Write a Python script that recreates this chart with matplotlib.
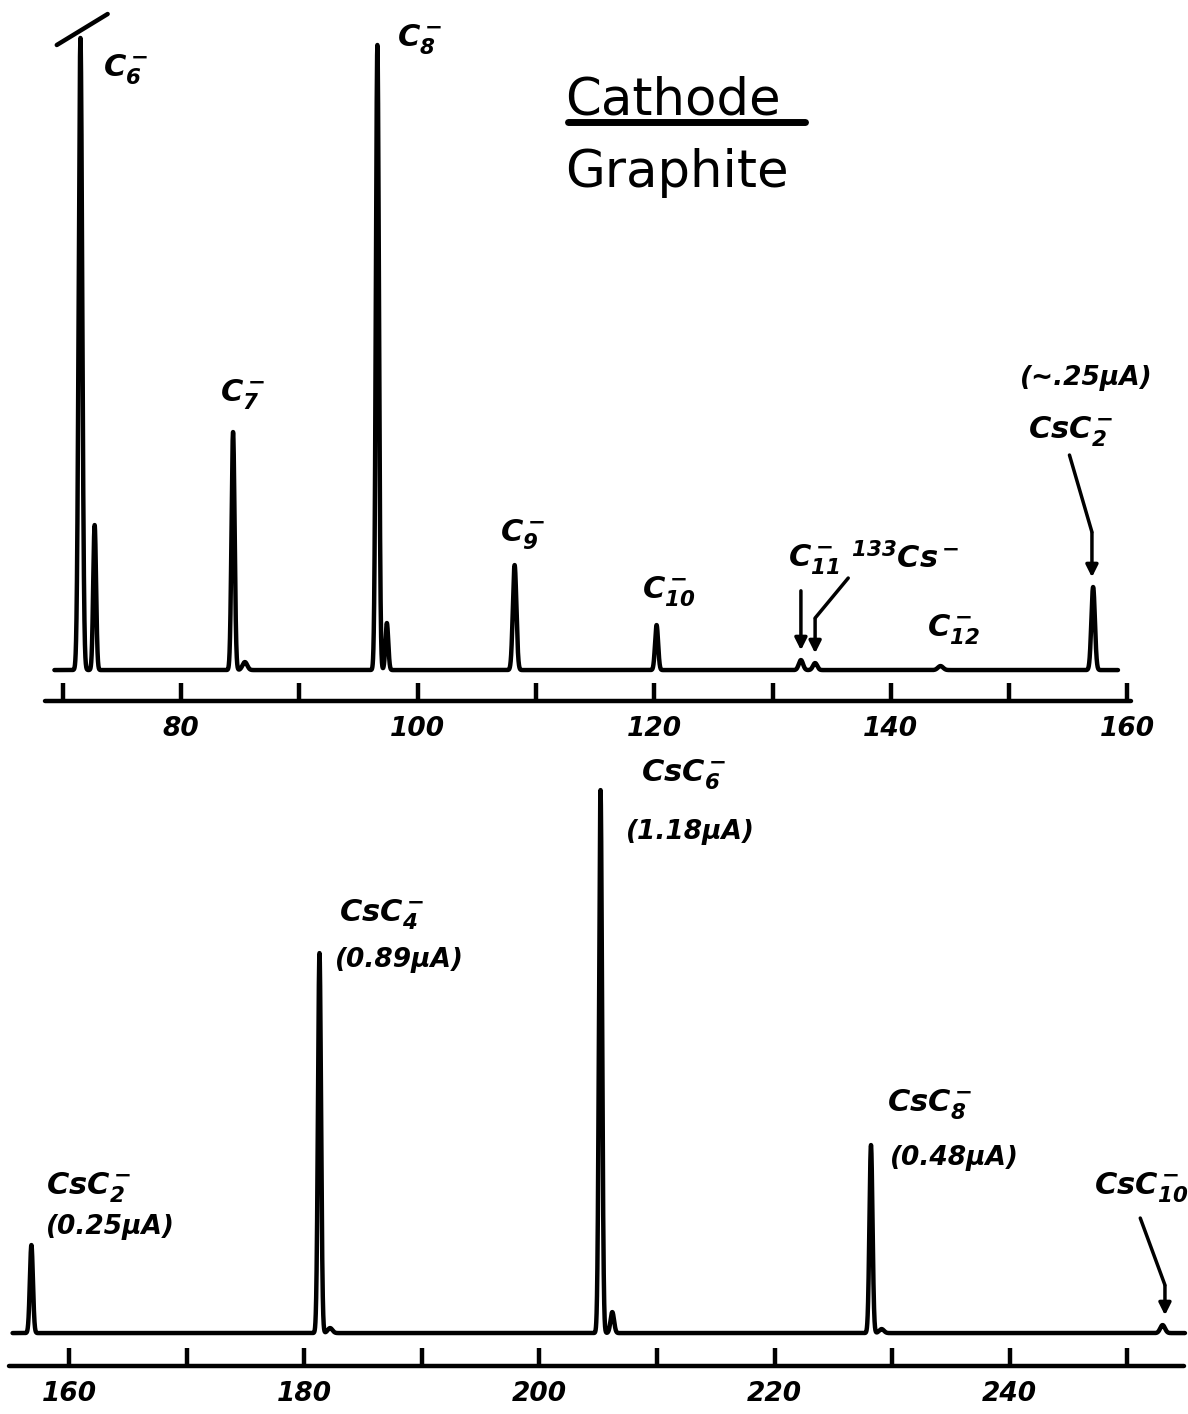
import numpy as np
import matplotlib
matplotlib.use('Agg')
import matplotlib.pyplot as plt

plt.rcParams['font.family'] = ['DejaVu Sans']
plt.rcParams['mathtext.fontset'] = 'custom'
plt.rcParams['mathtext.rm'] = 'DejaVu Sans:bold:italic'
plt.rcParams['mathtext.it'] = 'DejaVu Sans:bold:italic'
plt.rcParams['mathtext.default'] = 'rm'

# top panel: graphite cathode, C_n- clusters (mass, height in arb. units)
top_mass = [71.5, 72.7, 84.4, 85.4, 96.6, 97.4, 108.2, 120.2, 132.4, 133.6, 144.2, 157.1]
top_height = [632, 145, 238, 8, 625, 47, 105, 45, 10, 7, 4, 83]
top_width = [0.15, 0.12, 0.13, 0.2, 0.13, 0.12, 0.15, 0.13, 0.18, 0.18, 0.22, 0.15]
top_range = (69.3, 159.2)

# bottom panel: CsC_n- clusters
bot_mass = [156.8, 181.3, 182.2, 205.2, 206.2, 228.2, 229.1, 253.0]
bot_height = [88, 380, 5, 543, 21, 188, 4, 8]
bot_width = [0.13, 0.13, 0.2, 0.13, 0.15, 0.13, 0.2, 0.2]
bot_range = (155.2, 254.9)

LW = 3.2


def spectrum(masses, heights, widths, rng):
    x = np.linspace(rng[0], rng[1], 30000)
    y = np.zeros_like(x)
    for m, h, w in zip(masses, heights, widths):
        y = y + h * np.exp(-0.5 * ((x - m) / w) ** 2)
    return x, y


def style_axis(ax, bounds):
    for s in ['top', 'right', 'left']:
        ax.spines[s].set_visible(False)
    ax.spines['bottom'].set_linewidth(LW)
    ax.spines['bottom'].set_bounds(*bounds)
    ax.spines['bottom'].set_capstyle('round')
    ax.set_yticks([])
    ax.tick_params(axis='x', which='both', direction='in', length=13,
                   width=LW, pad=11)
    for lab in ax.get_xticklabels():
        lab.set_fontsize(19)
        lab.set_fontweight('bold')
        lab.set_fontstyle('italic')


fig = plt.figure(figsize=(11.88, 14.14), dpi=100)

# ---------------- top panel ----------------
ax1 = fig.add_axes([0, 0.5042, 1, 0.4958])
ax1.set_xlim(64.70, 165.12)
ax1.set_ylim(-31, 670)
x, y = spectrum(top_mass, top_height, top_width, top_range)
ax1.plot(x, np.minimum(y, top_height[0]), color='black', lw=LW,
         solid_capstyle='round', solid_joinstyle='round')
# off-scale mark on C6-
ax1.plot([69.5, 73.8], [625, 656], color='black', lw=LW, solid_capstyle='round')
ax1.set_xticks([80, 100, 120, 140, 160])
ax1.set_xticks([70, 90, 110, 130, 150], minor=True)
style_axis(ax1, (68.5, 160.3))

lab_kw = dict(fontsize=22, fontweight='bold', fontstyle='italic',
              va='center', ha='left')
ax1.text(73.4, 600, r'$C_6^-$', **lab_kw)
ax1.text(83.3, 275, r'$C_7^-$', **lab_kw)
ax1.text(98.3, 630, r'$C_8^-$', **lab_kw)
ax1.text(107.0, 135, r'$C_9^-$', **lab_kw)
ax1.text(119.0, 78, r'$C_{10}^-$', **lab_kw)
ax1.text(131.3, 110, r'$C_{11}^-$', **lab_kw)
ax1.text(136.6, 112, r'$^{133}Cs^-$', **lab_kw)
ax1.text(143.1, 40, r'$C_{12}^-$', **lab_kw)
ax1.text(156.5, 292, '(~.25μA)', fontsize=19, fontweight='bold',
         fontstyle='italic', ha='center', va='center')
ax1.text(151.6, 238, r'CsC$_2^-$', **lab_kw)

arr = dict(arrowstyle='-|>', color='black', lw=2.5, mutation_scale=18)
ax1.annotate('', xy=(132.4, 17), xytext=(132.4, 82), arrowprops=arr)
ax1.plot([136.4, 133.6], [92, 52], color='black', lw=2.5, solid_capstyle='round')
ax1.annotate('', xy=(133.6, 14), xytext=(133.6, 54), arrowprops=arr)
ax1.plot([155.1, 157.0], [215, 138], color='black', lw=2.5, solid_capstyle='round')
ax1.annotate('', xy=(157.0, 90), xytext=(157.0, 140), arrowprops=arr)

# ---------------- bottom panel ----------------
ax2 = fig.add_axes([0, 0.0339, 1, 0.4427])
ax2.set_xlim(154.13, 255.16)
ax2.set_ylim(-33, 593)
x, y = spectrum(bot_mass, bot_height, bot_width, bot_range)
ax2.plot(x, y, color='black', lw=LW, solid_capstyle='round',
         solid_joinstyle='round')
ax2.set_xticks([160, 180, 200, 220, 240])
ax2.set_xticks([170, 190, 210, 230, 250], minor=True)
style_axis(ax2, (154.9, 254.8))

cur_kw = dict(fontsize=19, fontweight='bold', fontstyle='italic',
              va='center', ha='left')
ax2.text(158.0, 145, r'CsC$_2^-$', **lab_kw)
ax2.text(158.0, 106, '(0.25μA)', **cur_kw)
ax2.text(183.0, 418, r'CsC$_4^-$', **lab_kw)
ax2.text(182.6, 373, '(0.89μA)', **cur_kw)
ax2.text(208.6, 558, r'CsC$_6^-$', **lab_kw)
ax2.text(207.4, 501, '(1.18μA)', **cur_kw)
ax2.text(229.6, 228, r'CsC$_8^-$', **lab_kw)
ax2.text(229.8, 175, '(0.48μA)', **cur_kw)
ax2.text(247.2, 145, r'CsC$_{10}^-$', **lab_kw)
ax2.plot([251.1, 253.2], [115, 48], color='black', lw=2.5, solid_capstyle='round')
ax2.annotate('', xy=(253.2, 15), xytext=(253.2, 50), arrowprops=arr)

# title
fig.text(0.4756, 0.929, 'Cathode', fontsize=37, ha='left', va='center')
fig.add_artist(plt.Line2D([0.478, 0.678], [0.9137, 0.9137], color='black',
                          lw=5, solid_capstyle='round'))
fig.text(0.4756, 0.878, 'Graphite', fontsize=37, ha='left', va='center')

plt.savefig('out.png', dpi=100)
